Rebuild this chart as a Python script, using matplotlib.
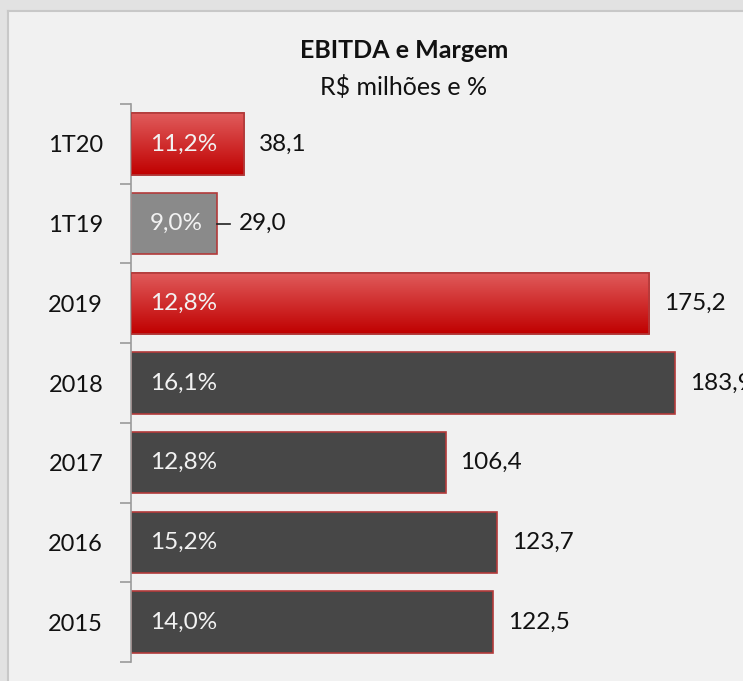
import numpy as np
import matplotlib.pyplot as plt
from matplotlib.colors import LinearSegmentedColormap
from matplotlib.patches import Rectangle

categories = ["1T20", "1T19", "2019", "2018", "2017", "2016", "2015"]
ebitda = [38.1, 29.0, 175.2, 183.9, 106.4, 123.7, 122.5]
margem = ["11,2%", "9,0%", "12,8%", "16,1%", "12,8%", "15,2%", "14,0%"]
kind = ["red", "gray", "red", "dark", "dark", "dark", "dark"]

plt.rcParams['font.family'] = ['Lato', 'DejaVu Sans']

fig = plt.figure(figsize=(7.43, 6.81), dpi=100, facecolor='#f1f1f1')

# outer frame of the slide panel
fig.patches.append(Rectangle((0, 1 - 10 / 681), 1, 10 / 681, transform=fig.transFigure,
                             facecolor='#e2e2e2', edgecolor='none', zorder=0))
fig.patches.append(Rectangle((0, 0), 8 / 743, 1, transform=fig.transFigure,
                             facecolor='#e2e2e2', edgecolor='none', zorder=0))
fig.add_artist(plt.Line2D([8 / 743, 1], [1 - 11 / 681] * 2, color='#c8c8c8', lw=1.5))
fig.add_artist(plt.Line2D([8 / 743] * 2, [0, 1 - 11 / 681], color='#c8c8c8', lw=1.5))

ax = fig.add_axes([131 / 743, 1 - 662 / 681, 1 - 131 / 743, (662 - 104) / 681])
ax.set_facecolor('none')

y = np.arange(len(categories))
colors = {"red": '#d02424', "gray": '#8a8a8a', "dark": '#474747'}
bars = ax.barh(y, ebitda, height=0.77, color=[colors[k] for k in kind],
               edgecolor='#b23a3a', linewidth=1.2, zorder=2)

red_cmap = LinearSegmentedColormap.from_list('rg', ['#e05c5c', '#c00000'])
grad = np.linspace(0, 1, 100).reshape(-1, 1)
for b, k in zip(bars, kind):
    if k == "red":
        x0, y0 = b.get_x(), b.get_y()
        w, h = b.get_width(), b.get_height()
        im = ax.imshow(grad, cmap=red_cmap, aspect='auto', zorder=2.5,
                       extent=[x0, x0 + w, y0, y0 + h], origin='lower')
        im.set_clip_path(b)
        # redraw the outline on top
        ax.add_patch(Rectangle((x0, y0), w, h, facecolor='none',
                               edgecolor='#b23a3a', linewidth=1.2, zorder=3))

for i, (v, m) in enumerate(zip(ebitda, margem)):
    ax.text(6.3, i, m, ha='left', va='center', color='#f2f2f2', fontsize=17.5, zorder=4)
    if categories[i] == "1T19":
        ax.plot([v, v + 4.5], [i, i], color='#222222', lw=1.2, zorder=4)
        ax.text(v + 7.6, i, f"{v:.1f}".replace('.', ','), ha='left', va='center',
                fontsize=17.5, color='#111111', clip_on=False)
    else:
        ax.text(v + 5, i, f"{v:.1f}".replace('.', ','), ha='left', va='center',
                fontsize=17.5, color='#111111', clip_on=False)

ax.set_xlim(0, (743 - 131) / 2.957)
ax.set_ylim(len(categories) - 0.5, -0.5)
ax.set_yticks(y)
ax.set_yticklabels(categories, fontsize=17, color='#111111')
ax.tick_params(axis='y', which='major', length=0, pad=20)
ax.set_yticks(np.arange(-0.5, len(categories)), minor=True)
ax.tick_params(axis='y', which='minor', length=8, color='#9a9a9a', width=1.2)
ax.set_xticks([])
for s in ['top', 'right', 'bottom']:
    ax.spines[s].set_visible(False)
ax.spines['left'].set_color('#9a9a9a')
ax.spines['left'].set_linewidth(1.2)

fig.text(404 / 743, 1 - 50 / 681, "EBITDA e Margem", ha='center', va='center',
         fontsize=18, fontweight='bold', color='#111111')
fig.text(404 / 743, 1 - 87 / 681, "R$ milhões e %", ha='center', va='center',
         fontsize=18, color='#111111')

fig.savefig('out.png', dpi=100, facecolor=fig.get_facecolor())
